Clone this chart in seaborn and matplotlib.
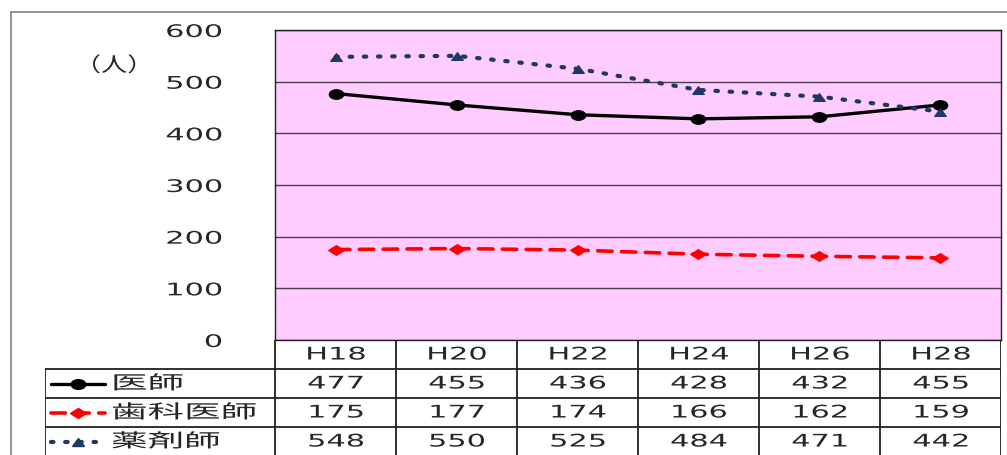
import matplotlib
matplotlib.use('Agg')
import matplotlib.pyplot as plt
from matplotlib.lines import Line2D
from matplotlib.markers import MarkerStyle
from matplotlib.transforms import Affine2D
from matplotlib.patheffects import AbstractPathEffect
import seaborn as sns

# 年度と職種別の人数
years = ['H18', 'H20', 'H22', 'H24', 'H26', 'H28']
ishi = [477, 455, 436, 428, 432, 455]
shika = [175, 177, 174, 166, 162, 159]
yakuzai = [548, 550, 525, 484, 471, 442]


class Stretch(AbstractPathEffect):
    """文字を横に引き伸ばす（元の表のような横長の字体）"""
    def __init__(self, sx, align='center'):
        super().__init__()
        self.sx = sx
        self.align = align

    def draw_path(self, renderer, gc, tpath, affine, rgbFace=None):
        w = tpath.get_extents().x1
        shift = {'left': 0, 'center': -(self.sx - 1) * w / 2,
                 'right': -(self.sx - 1) * w}[self.align]
        t = Affine2D().scale(self.sx, 1).translate(shift, 0) + affine
        renderer.draw_path(gc, tpath, t, rgbFace)


def mk(name, sx=1.5):
    return MarkerStyle(name, transform=Affine2D().scale(sx, 1))


# 名前, 値, 色, 線種, 線幅, マーカー, マーカーサイズ
series = [
    ('医師', ishi, 'black', '-', 2.4, 'o', 7),
    ('歯科医師', shika, '#FF0000', (0, (4, 2.6)), 2.6, 'D', 5.5),
    ('薬剤師', yakuzai, '#1F3864', (0, (0.6, 2.8)), 3.0, '^', 6),
]

sns.set_style('white')
plt.rcParams['font.family'] = ['DejaVu Sans', 'Noto Sans CJK JP']

NUM = dict(fontsize=12.5, path_effects=[Stretch(1.75)])
CJK = dict(fontsize=13.5, family=['Noto Sans CJK JP'])

W, H = 1007, 455
fig = plt.figure(figsize=(W / 100, H / 100), dpi=100)

# 外枠
fig.add_artist(Line2D([11 / W, 1], [1 - 12 / H, 1 - 12 / H], color='#808080', lw=1.2))
fig.add_artist(Line2D([11 / W, 11 / W], [0, 1 - 12 / H], color='#808080', lw=1.2))

# グラフ本体
ax = fig.add_axes([275 / W, (H - 340) / H, 726 / W, 310 / H])
ax.set_facecolor('#FFCCFF')
xs = list(range(len(years)))
for name, vals, color, ls, lw, m, ms in series:
    sns.lineplot(x=xs, y=vals, ax=ax, color=color, linestyle=ls, marker=mk(m),
                 markersize=ms, markeredgecolor=color, lw=lw,
                 dash_capstyle='round', solid_capstyle='round')
ax.set_xlim(-0.5, len(years) - 0.5)
ax.set_ylim(0, 600)
ax.set_yticks(range(0, 601, 100))
ax.set_xticks([])
ax.yaxis.grid(True, color='#4a3a4a', lw=1)
ax.set_axisbelow(True)
ax.tick_params(axis='y', length=0, pad=38)
for lab in ax.get_yticklabels():
    lab.set_fontsize(12.5)
    lab.set_path_effects([Stretch(1.75, 'right')])
for s in ax.spines.values():
    s.set_color('#202020')
    s.set_linewidth(1)
fig.text(112 / W, 1 - 66 / H, '（人）', ha='center', va='center',
         fontsize=14.5, family=['Noto Sans CJK JP'], path_effects=[Stretch(1.3)])

# データテーブル
tab = fig.add_axes([45 / W, -1 / H, 956 / W, 116 / H])
left = -0.5 - 230 / 121
tab.set_xlim(left, len(years) - 0.5)
tab.set_ylim(4, 0)
tab.axis('off')
lc = '#202020'
for y in [1, 2, 3, 4]:
    tab.plot([left, len(years) - 0.5], [y, y], color=lc, lw=1.3)
tab.plot([left, left], [1, 4], color=lc, lw=1.3)
for i in range(len(years) + 1):
    tab.plot([i - 0.5, i - 0.5], [0, 4], color=lc, lw=1.3)
for i, yr in enumerate(years):
    tab.text(i, 0.5, yr, ha='center', va='center', **NUM)
for r, (name, vals, color, ls, lw, m, ms) in enumerate(series, start=1):
    x0, x1 = left + 6 / 121, left + 60 / 121
    tab.plot([x0, x1], [r + 0.5, r + 0.5], color=color, linestyle=ls, lw=lw,
             dash_capstyle='round', solid_capstyle='round')
    tab.plot([(x0 + x1) / 2], [r + 0.5], color=color, marker=mk(m), markersize=ms)
    tab.text(left + 66 / 121, r + 0.5, name, ha='left', va='center',
             path_effects=[Stretch(1.95, 'left')], **CJK)
    for i, v in enumerate(vals):
        tab.text(i, r + 0.5, str(v), ha='center', va='center', **NUM)

fig.savefig('out.png', dpi=100)
